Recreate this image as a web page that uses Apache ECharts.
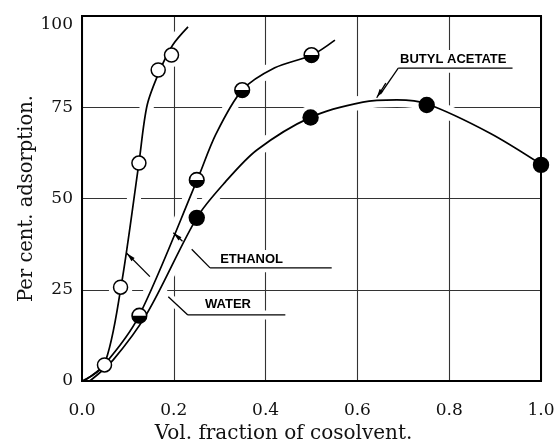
<!DOCTYPE html>
<html><head><meta charset="utf-8">
<script src="https://cdn.jsdelivr.net/npm/echarts@6/dist/echarts.min.js"></script>
<style>html,body{margin:0;padding:0;background:#fff}#c{width:558px;height:444px}</style>
</head><body><div id="c"></div>
<script>
// ---- data ----
const xTicks = [0, 0.2, 0.4, 0.6, 0.8, 1.0];
const yTicks = [0, 25, 50, 75, 100];
const xTitle = 'Vol. fraction of cosolvent.';
const yTitle = 'Per cent. adsorption.';

// measured points (vol. fraction, per cent adsorption)
const waterPoints   = [[0.049, 4.4], [0.084, 25.7], [0.124, 59.7], [0.166, 85.2], [0.195, 89.3]];
const ethanolPoints = [[0.125, 17.9], [0.25, 55.1], [0.349, 79.7], [0.50, 89.3]];
const butylPoints   = [[0.25, 44.7], [0.498, 72.2], [0.751, 75.6], [1.0, 59.2]];

// hand-drawn fitted curves
const waterCurve   = [[0.0, 0], [0.048, 4.4], [0.085, 25.8], [0.124, 59.7], [0.142, 75.6], [0.170, 85.2], [0.198, 92.1], [0.231, 97.0]];
const ethanolCurve = [[0.004, 0], [0.048, 4.4], [0.124, 17.8], [0.251, 55.1], [0.292, 67.7], [0.349, 79.7], [0.420, 85.8], [0.501, 89.3], [0.551, 93.4]];
const butylCurve   = [[0.017, 0], [0.068, 5.8], [0.142, 18.6], [0.251, 44.9], [0.312, 54.5], [0.381, 63.3], [0.499, 72.3], [0.612, 76.4], [0.686, 77.0], [0.752, 75.9], [0.889, 67.9], [1.0, 59.4]];

// curve labels with leader lines (data units)
const labelNames   = ['BUTYL ACETATE', 'ETHANOL', 'WATER'];
const labelAnchors = [[0.693, 88.1], [0.301, 33.3], [0.268, 20.9]];
const underlines   = [[[0.689, 85.7], [0.938, 85.7]], [[0.279, 31.0], [0.544, 31.0]], [[0.2306, 18.1], [0.443, 18.1]]];
const leaders      = [[[0.689, 85.7], [0.650, 78.6]], [[0.279, 31.0], [0.239, 36.1]], [[0.2306, 18.1], [0.188, 23.1]]];
const arrows       = [[[0.662, 81.6], [0.642, 77.6]], [[0.219, 38.3], [0.199, 40.6]], [[0.148, 28.6], [0.0974, 35.0]]];

// ---- chart ----
const chart = echarts.init(document.getElementById('c'), null, {renderer: 'canvas'});
const serif = '"DejaVu Serif", serif';

function curveSeries(name, data, halo) {
  return {
    type: 'line', name: name, data: data, smooth: 0.3,
    showSymbol: false, symbol: 'none', silent: true, z: halo ? 2 : 3,
    lineStyle: halo ? {color: '#fff', width: 14} : {color: '#000', width: 1.7},
    animation: false
  };
}

function markerSeries(name, data, kind) {
  return {
    type: 'custom', name: name, data: data, z: kind === 'halo' ? 2.5 : 4, silent: true, animation: false,
    renderItem: function (params, api) {
      const p = api.coord([api.value(0), api.value(1)]);
      if (kind === 'halo') {
        return {type: 'circle', shape: {cx: p[0], cy: p[1], r: 12}, style: {fill: '#fff'}};
      }
      if (kind === 'open') {
        return {type: 'circle', shape: {cx: p[0], cy: p[1], r: 7}, style: {fill: '#fff', stroke: '#000', lineWidth: 1.5}};
      }
      if (kind === 'filled') {
        return {type: 'circle', shape: {cx: p[0], cy: p[1], r: 8.2}, style: {fill: '#000'}};
      }
      return {type: 'group', children: [
        {type: 'circle', shape: {cx: p[0], cy: p[1], r: 7.3}, style: {fill: '#fff', stroke: '#000', lineWidth: 1.6}},
        {type: 'sector', shape: {cx: p[0], cy: p[1], r0: 0, r: 7.6, startAngle: 0, endAngle: Math.PI, clockwise: true}, style: {fill: '#000'}}
      ]};
    }
  };
}

function noteSeries(halo) {
  return {
    type: 'custom', name: halo ? 'labels-halo' : 'labels', z: halo ? 2.6 : 5, silent: true, animation: false,
    data: labelAnchors.map(function (a) { return a.slice(); }),
    renderItem: function (params, api) {
      const i = params.dataIndex;
      const c = function (v) { return api.coord(v); };
      const u0 = c(underlines[i][0]), u1 = c(underlines[i][1]);
      const l0 = c(leaders[i][0]), l1 = c(leaders[i][1]);
      const a0 = c(arrows[i][0]), a1 = c(arrows[i][1]);
      const t = c(labelAnchors[i]);
      const stroke = halo ? {stroke: '#fff', lineWidth: 9} : {stroke: '#000', lineWidth: 1.3};
      const children = [
        {type: 'line', shape: {x1: u0[0], y1: u0[1], x2: u1[0], y2: u1[1]}, style: stroke},
        {type: 'line', shape: {x1: l0[0], y1: l0[1], x2: l1[0], y2: l1[1]}, style: stroke},
        {type: 'line', shape: {x1: a0[0], y1: a0[1], x2: a1[0], y2: a1[1]}, style: stroke}
      ];
      if (halo) {
        children.push({type: 'text', x: t[0], y: t[1], style: {text: labelNames[i], fontFamily: '"Liberation Sans", Arial, sans-serif', fontWeight: 'bold', fontSize: 13, fill: '#fff', verticalAlign: 'middle', align: 'left', backgroundColor: '#fff', padding: [3, 4]}});
      } else {
        const dx = a1[0] - a0[0], dy = a1[1] - a0[1];
        const len = Math.sqrt(dx * dx + dy * dy) || 1;
        const ux = dx / len, uy = dy / len, nx = -uy, ny = ux;
        const bx = a1[0] - ux * 9, by = a1[1] - uy * 9;
        children.push({type: 'polygon', shape: {points: [[a1[0], a1[1]], [bx + nx * 2.2, by + ny * 2.2], [bx - nx * 2.2, by - ny * 2.2]]}, style: {fill: '#000'}});
        children.push({type: 'text', x: t[0], y: t[1], style: {text: labelNames[i], fontFamily: '"Liberation Sans", Arial, sans-serif', fontWeight: 'bold', fontSize: 13, fill: '#000', verticalAlign: 'middle', align: 'left'}});
      }
      return {type: 'group', children: children};
    }
  };
}

const allPoints = waterPoints.concat(ethanolPoints, butylPoints);

chart.setOption({
  backgroundColor: '#fff',
  animation: false,
  grid: {left: 82, right: 17, top: 16, bottom: 63, show: true, z: 10, borderColor: '#000', borderWidth: 2, backgroundColor: 'transparent', outerBoundsMode: 'none', containLabel: false},
  xAxis: {
    type: 'value', min: xTicks[0], max: xTicks[xTicks.length - 1], interval: 0.2,
    name: xTitle, nameLocation: 'middle', nameGap: 38,
    nameTextStyle: {fontFamily: serif, fontSize: 20, color: '#111', padding: [0, 56, 0, 0]},
    axisLine: {show: false}, axisTick: {show: false},
    axisLabel: {fontFamily: serif, fontSize: 17, color: '#111', margin: 21, formatter: function (v) { return v.toFixed(1); }},
    splitLine: {show: true, lineStyle: {color: '#333', width: 1.1}}
  },
  yAxis: {
    type: 'value', min: yTicks[0], max: yTicks[yTicks.length - 1], interval: 25,
    name: yTitle, nameLocation: 'middle', nameGap: 45, nameRotate: 90, nameMoveOverlap: false,
    nameTextStyle: {fontFamily: serif, fontSize: 19.5, color: '#111'},
    axisLine: {show: false}, axisTick: {show: false},
    axisLabel: {fontFamily: serif, fontSize: 17, color: '#111', margin: 9, verticalAlignMaxLabel: 'top'},
    splitLine: {show: true, lineStyle: {color: '#333', width: 1.1}}
  },
  series: [
    curveSeries('water-halo', waterCurve, true),
    curveSeries('ethanol-halo', ethanolCurve, true),
    curveSeries('butyl-halo', butylCurve, true),
    markerSeries('marker-halo', allPoints, 'halo'),
    noteSeries(true),
    curveSeries('Water', waterCurve, false),
    curveSeries('Ethanol', ethanolCurve, false),
    curveSeries('Butyl acetate', butylCurve, false),
    markerSeries('Water points', waterPoints, 'open'),
    markerSeries('Ethanol points', ethanolPoints, 'half'),
    markerSeries('Butyl acetate points', butylPoints, 'filled'),
    noteSeries(false)
  ]
});
</script>
</body></html>
